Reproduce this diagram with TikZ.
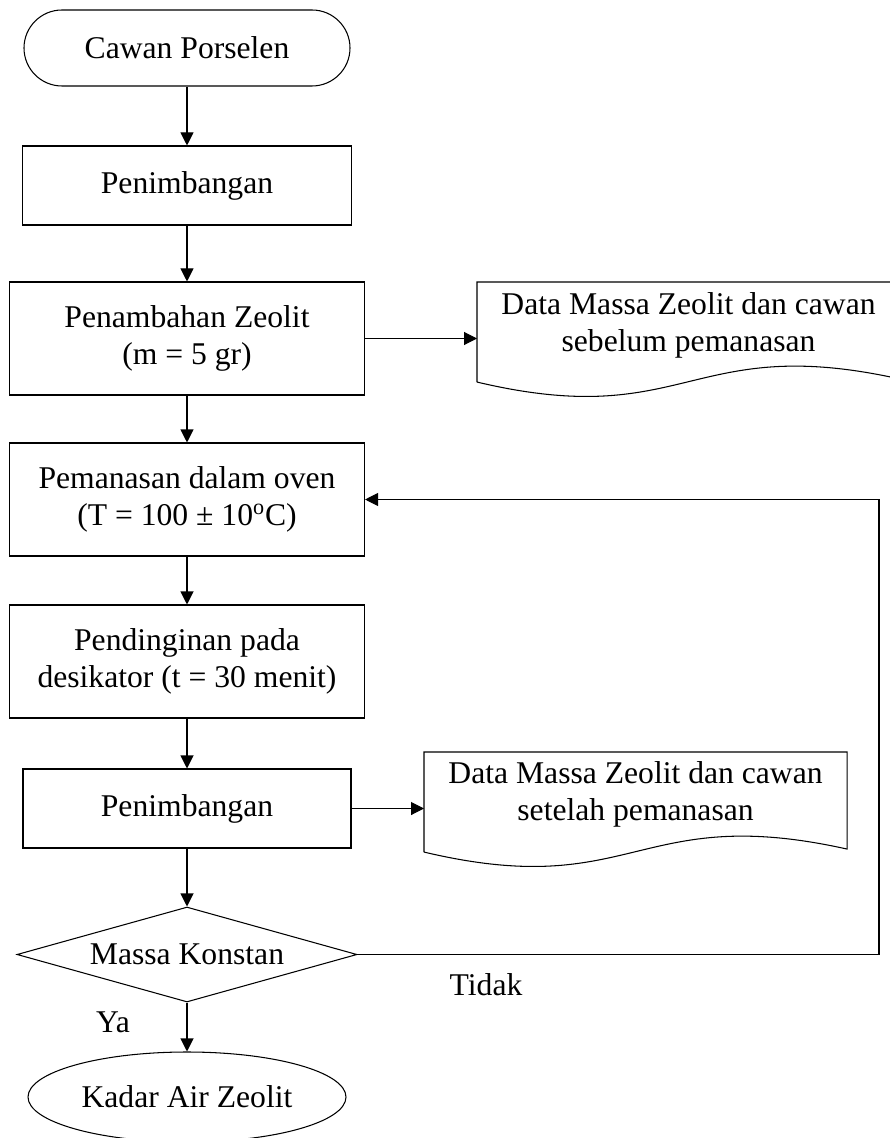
\documentclass[tikz,border=0pt]{standalone}
\usepackage{fontspec}
\setmainfont{Liberation Serif}
\usetikzlibrary{shapes.geometric,arrows.meta}

\begin{document}
\begin{tikzpicture}[
    font=\fontsize{18pt}{21pt}\selectfont,
    line width=0.6pt,
    box/.style={draw,align=center,minimum width=7.1cm,minimum height=2.26cm},
    arr/.style={-{Triangle[length=0.26cm,width=0.26cm]}},
    doc/.style={minimum width=8.44cm,minimum height=1.98cm,anchor=north west,inner sep=0pt}
  ]
    \useasboundingbox (0,0) rectangle (17.78,-22.76);
    %% main column
    \node[draw,rounded corners=0.76cm,minimum width=6.52cm,minimum height=1.52cm] (CP) at (3.74,-0.96) {Cawan Porselen};
    \node[box,minimum width=6.58cm,minimum height=1.58cm] (P1) at (3.74,-3.71) {Penimbangan};
    \node[box] (PZ) at (3.74,-6.77) {Penambahan Zeolit\\(m = 5 gr)};
    \node[box] (PO) at (3.74,-9.99) {Pemanasan dalam oven\\(T = 100 ± 10\textsuperscript{o}C)};
    \node[box] (PD) at (3.74,-13.23) {Pendinginan pada\\desikator (t = 30 menit)};
    \node[box,minimum width=6.56cm,minimum height=1.58cm] (P2) at (3.74,-16.17) {Penimbangan};
    \node[draw,diamond,aspect=3.58,inner sep=0pt,minimum width=6.8cm,minimum height=1.9cm] (MK) at (3.74,-19.09) {Massa Konstan};
    \node[draw,ellipse,minimum width=6.36cm,minimum height=1.8cm] (KA) at (3.74,-21.94) {Kadar Air Zeolit};
    %% data output
    \node[doc] (DS) at (9.54,-5.64) {};
    \node[align=center] (DStext) at ([yshift=0.14cm]DS.center) {Data Massa Zeolit dan cawan\\sebelum pemanasan};
    \draw (DS.south west) -- (DS.north west) -- (DS.north east) -- ([yshift=0.06cm]DS.south east)
        .. controls +(-4.22,0.94) and +(4.22,-1.0) .. (DS.south west);
    \node[doc] (DT) at (8.48,-15.04) {};
    \node[align=center] (DTtext) at ([yshift=0.16cm]DT.center) {Data Massa Zeolit dan cawan\\setelah pemanasan};
    \draw (DT.south west) -- (DT.north west) -- (DT.north east) -- ([yshift=0.06cm]DT.south east)
        .. controls +(-4.22,0.94) and +(4.22,-1.0) .. (DT.south west);
    %% connectors
    \draw[arr] (CP) -- (P1);
    \draw[arr] (P1) -- (PZ);
    \draw[arr] (PZ) -- (PO);
    \draw[arr] (PO) -- (PD);
    \draw[arr] (PD) -- (P2);
    \draw[arr] (P2) -- (MK);
    \draw[arr] (MK) -- (KA);
    \draw[arr] (PZ.east) -- (PZ.east -| DS.west);
    \draw[arr] (P2.east) -- (P2.east -| DT.west);
    \coordinate (back) at (17.58,-19.09);
    \draw[arr] (MK.east) -- (back) |- (PO.east);
    %% labels
    \node (tidak) at (9.72,-19.69) {Tidak};
    \node (ya) at (2.26,-20.44) {Ya};
\end{tikzpicture}
\end{document}
